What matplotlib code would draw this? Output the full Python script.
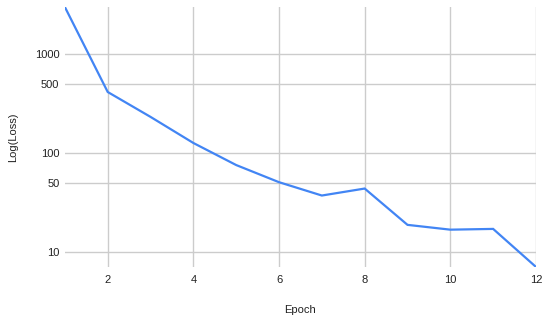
import matplotlib
matplotlib.use("Agg")
import matplotlib.pyplot as plt

epochs = [1, 2, 3, 4, 5, 6, 7, 8, 9, 10, 11, 12]
loss = [3000, 416, 233, 127, 76, 51, 37.4, 44, 18.9, 16.9, 17.2, 7.1]
xticks = [2, 4, 6, 8, 10, 12]
yticks = [10, 50, 100, 500, 1000]
ytick_labels = ["10", "50", "100", "500", "1000"]

plt.rcParams['font.family'] = ['Liberation Sans', 'DejaVu Sans']

fig = plt.figure(figsize=(5.5, 3.22), dpi=100)
ax = fig.add_axes([0.118, 0.171, 0.8565, 0.807])
ax.plot(epochs, loss, color='#4285F4', lw=1.6, solid_joinstyle='miter', zorder=3, clip_on=True)
ax.set_yscale('log')
ax.set_xlim(1, 12)
ax.set_ylim(min(loss), max(loss))
ax.set_xticks(xticks)
ax.set_yticks(yticks)
ax.set_yticklabels(ytick_labels)
ax.yaxis.set_minor_locator(matplotlib.ticker.NullLocator())
ax.grid(True, color='#cccccc', lw=1)
for s in ax.spines.values():
    s.set_visible(False)
ax.tick_params(length=0, labelsize=8, colors='#222222', pad=4)
ax.tick_params(axis='x', pad=6)
ax.set_xlabel('Epoch', fontsize=8, color='#222222', labelpad=14)
ax.set_ylabel('Log(Loss)', fontsize=8, color='#222222', labelpad=12)
fig.savefig('out.png', dpi=100)
